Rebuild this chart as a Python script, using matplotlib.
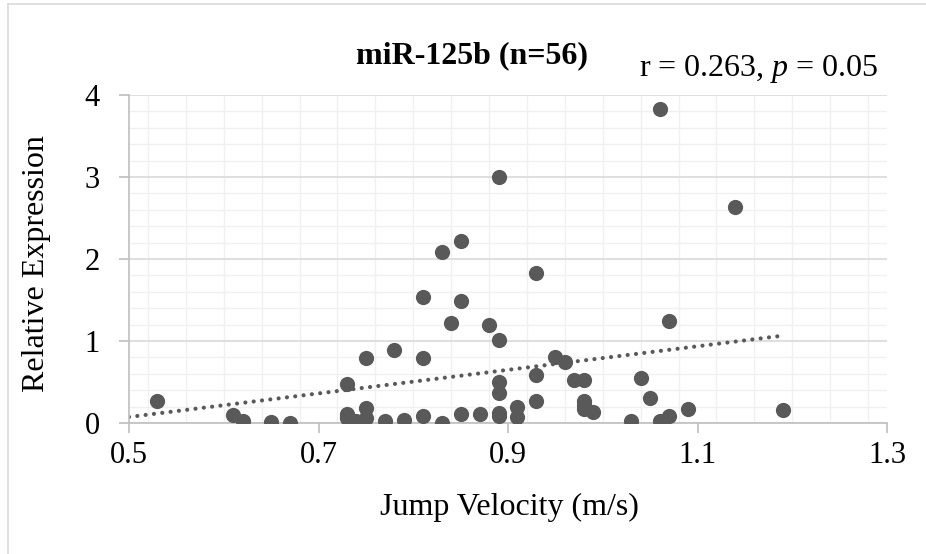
import numpy as np
import matplotlib
matplotlib.use('Agg')
import matplotlib.pyplot as plt
from matplotlib.ticker import MultipleLocator
from matplotlib.lines import Line2D

plt.rcParams['font.family'] = ['Liberation Serif', 'DejaVu Serif']
plt.rcParams['mathtext.fontset'] = 'custom'
plt.rcParams['mathtext.rm'] = 'Liberation Serif'
plt.rcParams['mathtext.it'] = 'Liberation Serif:italic'

# Datos
velocidad = [0.53, 0.61, 0.62, 0.65, 0.67,
             0.73, 0.73, 0.73, 0.73, 0.74, 0.75, 0.75, 0.75, 0.77, 0.78, 0.79,
             0.81, 0.81, 0.81, 0.83, 0.83, 0.84, 0.85, 0.85, 0.85, 0.87, 0.88,
             0.89, 0.89, 0.89, 0.89, 0.89, 0.89, 0.91, 0.91, 0.93, 0.93, 0.93,
             0.95, 0.96, 0.97, 0.98, 0.98, 0.98, 0.98, 0.99,
             1.03, 1.04, 1.05, 1.06, 1.06, 1.07, 1.07, 1.09, 1.14, 1.19]
expresion = [0.27, 0.10, 0.03, 0.01, 0.00,
             0.47, 0.11, 0.06, 0.08, 0.02, 0.79, 0.18, 0.06, 0.03, 0.89, 0.04,
             1.54, 0.79, 0.09, 2.09, 0.00, 1.22, 2.22, 1.49, 0.11, 0.11, 1.19,
             3.00, 1.01, 0.50, 0.37, 0.08, 0.12, 0.20, 0.07, 1.83, 0.59, 0.27,
             0.80, 0.74, 0.52, 0.52, 0.27, 0.17, 0.22, 0.13,
             0.02, 0.55, 0.30, 3.83, 0.03, 1.25, 0.09, 0.17, 2.63, 0.16]

titulo = 'miR-125b (n=56)'
estadistico = r'r = 0.263, $\it{p}$ = 0.05'
x_label = 'Jump Velocity (m/s)'
y_label = 'Relative Expression'

gris = '#595959'

fig = plt.figure(figsize=(9.26, 5.54), dpi=100)
ax = fig.add_axes([129/926, 1 - 423/554, 758/926, 328/554])

# Lineas de cuadricula
ax.set_xlim(0.5, 1.3)
ax.set_ylim(0, 4)
ax.xaxis.set_major_locator(MultipleLocator(0.2))
ax.xaxis.set_minor_locator(MultipleLocator(0.04))
ax.yaxis.set_major_locator(MultipleLocator(1))
ax.yaxis.set_minor_locator(MultipleLocator(0.2))
ax.grid(which='minor', color='#F0F0F0', linewidth=1.0)
ax.grid(which='major', axis='y', color='#D9D9D9', linewidth=1.2)
ax.set_axisbelow(True)

for lado in ['top', 'right']:
    ax.spines[lado].set_visible(False)
for lado in ['left', 'bottom']:
    ax.spines[lado].set_color('#BFBFBF')
    ax.spines[lado].set_linewidth(1.2)

ax.tick_params(which='major', direction='out', length=7, width=1.2, color='#BFBFBF',
               labelsize=22, labelcolor='black')
ax.tick_params(axis='y', pad=14)
ax.tick_params(axis='x', pad=6)
ax.tick_params(which='minor', length=0)
ax.set_xticks([0.5, 0.7, 0.9, 1.1, 1.3])
ax.set_xticklabels(['0.5', '0.7', '0.9', '1.1', '1.3'])

# Puntos
ax.scatter(velocidad, expresion, s=120, color=gris, zorder=3, linewidths=0)

# Linea de tendencia
coef = np.polyfit(velocidad, expresion, 1)
xt = np.array([0.5, max(velocidad)])
ax.plot(xt, np.polyval(coef, xt), color=gris, linewidth=3.0,
        linestyle=(0, (0.01, 2.0)), dash_capstyle='round', zorder=2)

# Textos
fig.text(472/926, 1 - 63/554, titulo, ha='center', va='baseline',
         fontsize=23, fontweight='bold')
fig.text(878/926, 1 - 76/554, estadistico, ha='right', va='baseline', fontsize=23)
fig.text(509/926, 1 - 507/554, x_label, ha='center', va='center', fontsize=23)
fig.text(37/926, 1 - 264/554, y_label, ha='center', va='center', rotation=90, fontsize=23)

# Borde del grafico
fig.add_artist(Line2D([7.5/926, 7.5/926], [0, 1 - 3.5/554], color='#D9D9D9', linewidth=1.2))
fig.add_artist(Line2D([7.5/926, 1], [1 - 3.5/554, 1 - 3.5/554], color='#D9D9D9', linewidth=1.2))

plt.savefig('out.png', dpi=100)
